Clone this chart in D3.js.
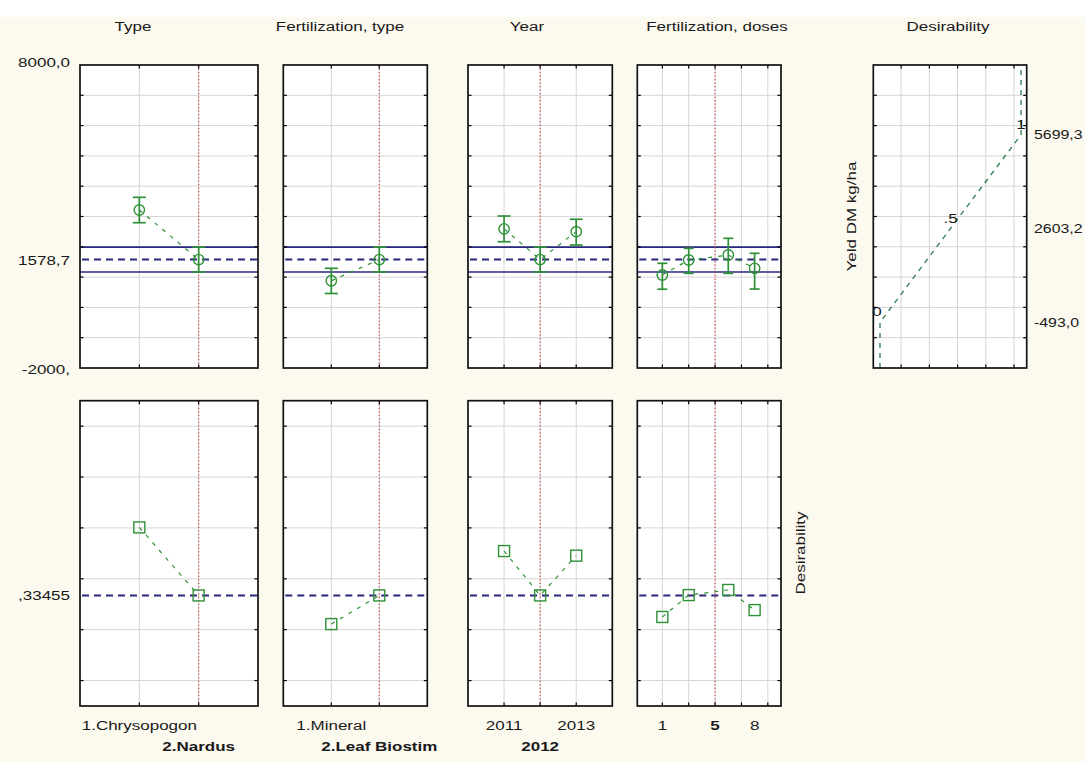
<!DOCTYPE html>
<html>
<head>
<meta charset="utf-8">
<script src="https://cdn.jsdelivr.net/npm/d3@7"></script>
<style>
  html, body { margin: 0; padding: 0; background: #fcf9ef; }
  svg { display: block; }
  text { font-family: "Liberation Sans", Arial, sans-serif; fill: #1a1a1a; }
</style>
</head>
<body>
<svg id="chart" width="1085" height="762"></svg>
<script>
// ---------------- DATA ----------------
const panelTitles = ["Type", "Fertilization, type", "Year", "Fertilization, doses", "Desirability"];

const typeLevels = [1, 2];
const typeLabels = ["1.Chrysopogon", "2.Nardus"];
const typeYield = [3214, 1578.7];
const typeLow = [2795, 1169];
const typeHigh = [3633, 1989];
const typeDesir = [0.602, 0.3346];

const fertLevels = [1, 2];
const fertLabels = ["1.Mineral", "2.Leaf Biostim"];
const fertYield = [880, 1578.7];
const fertLow = [460, 1169];
const fertHigh = [1290, 1989];
const fertDesir = [0.222, 0.3346];

const yearLevels = [1, 2, 3];
const yearLabels = ["2011", "2012", "2013"];
const yearYield = [2592, 1578.7, 2500];
const yearLow = [2168, 1169, 2059];
const yearHigh = [3016, 1989, 2908];
const yearDesir = [0.509, 0.3346, 0.491];

const doseLevels = [1, 3, 6, 8];
const doseYield = [1069, 1564, 1729, 1290];
const doseLow = [600, 1125, 1125, 607];
const doseHigh = [1455, 1950, 2280, 1785];
const doseDesir = [0.250, 0.336, 0.356, 0.277];
const doseTickValues = [1, 5, 8];
const doseTickLabels = ["1", "5", "8"];
const doseGrid = [1, 3, 5, 7, 9];

const currentLevel = [2, 2, 2, 5];

const meanYield = 1578.7;
const bandLow = 1169;
const bandHigh = 1989;
const meanDesir = 0.33455;

const yieldTickValues = [8000, 1578.7, -2000];
const yieldTickLabels = ["8000,0", "1578,7", "-2000,"];
const desirTickValues = [0.33455];
const desirTickLabels = [",33455"];
const yieldDomain = [-2000, 8000];
const desirDomain = [-0.1, 1.1];
const yieldGrid = [-1000, 0, 1000, 2000, 3000, 4000, 5000, 6000, 7000];
const desirGrid = [0, 0.2, 0.4, 0.6, 0.8, 1.0];

const desFnD = [0, 0, 1, 1];
const desFnY = [-2000, -493.0, 5699.3, 8000];
const desFnLabels = ["0", ".5", "1"];
const desFnLabelD = [0, 0.5, 1];
const desFnLabelY = [-493.0, 2603.2, 5699.3];
const desRightTickValues = [5699.3, 2603.2, -493.0];
const desRightTickLabels = ["5699,3", "2603,2", "-493,0"];
const desGrid = [0.15, 0.35, 0.55, 0.75, 0.95];

const yLabelTop = "Yeld DM kg/ha";
const yLabelBottom = "Desirability";

// ---------------- STYLE / LAYOUT ----------------
const GREEN = "#2f9137";
const NAVY = "#28287e";
const RED = "#d03a3a";
const GRID = "#d6d6d6";
const SX = 1.36;
const FS = 12.5;

const svg = d3.select("#chart");
svg.append("rect").attr("width", 1085).attr("height", 762).attr("fill", "#fcf9ef");
svg.append("rect").attr("width", 1085).attr("height", 17).attr("fill", "#ffffff");

function txt(x, y, s, anchor = "middle", opts = {}) {
  const t = svg.append("text")
    .attr("transform", `translate(${x},${y})` + (opts.rotate ? ` rotate(${opts.rotate})` : "") + ` scale(${opts.sx || SX},1)`)
    .attr("text-anchor", anchor)
    .attr("font-size", opts.size || FS)
    .text(s);
  if (opts.bold) t.attr("font-weight", "bold");
  return t;
}

const topY = d3.scaleLinear().domain(yieldDomain).range([368, 65]);
const botY = d3.scaleLinear().domain(desirDomain).range([706, 400.7]);

const panels = [
  { x0: 80, x1: 258, domain: [0, 3], levels: typeLevels, labels: typeLabels, yv: typeYield, lo: typeLow, hi: typeHigh, dv: typeDesir, grid: typeLevels, cur: currentLevel[0], cat: true, cap: 6.5, titleX: 133 },
  { x0: 283.3, x1: 427.3, domain: [0, 3], levels: fertLevels, labels: fertLabels, yv: fertYield, lo: fertLow, hi: fertHigh, dv: fertDesir, grid: fertLevels, cur: currentLevel[1], cat: true, cap: 6.5, titleX: 340 },
  { x0: 468, x1: 612.3, domain: [0, 4], levels: yearLevels, labels: yearLabels, yv: yearYield, lo: yearLow, hi: yearHigh, dv: yearDesir, grid: yearLevels, cur: currentLevel[2], cat: true, cap: 6.5, titleX: 527 },
  { x0: 637.3, x1: 781, domain: [-0.9, 10], levels: doseLevels, labels: null, yv: doseYield, lo: doseLow, hi: doseHigh, dv: doseDesir, grid: doseGrid, cur: currentLevel[3], cat: false, cap: 5, titleX: 717 }
];

function drawFrame(x, y, xgrid, ygrid) {
  const [x0, x1] = x.range();
  const [yb, yt] = y.range();
  const g = svg.append("g");
  g.append("rect").attr("x", x0).attr("y", yt).attr("width", x1 - x0).attr("height", yb - yt).attr("fill", "#fff");
  g.selectAll(".hg").data(ygrid).join("line")
    .attr("x1", x0).attr("x2", x1).attr("y1", d => y(d)).attr("y2", d => y(d))
    .attr("stroke", GRID).attr("stroke-width", 1);
  g.selectAll(".vg").data(xgrid).join("line")
    .attr("x1", d => x(d)).attr("x2", d => x(d)).attr("y1", yt).attr("y2", yb)
    .attr("stroke", GRID).attr("stroke-width", 1);
  return g;
}
function drawBorder(x, y, xgrid, ygrid) {
  const [x0, x1] = x.range();
  const [yb, yt] = y.range();
  const g = svg.append("g");
  const tl = 3.5;
  ygrid.forEach(d => {
    g.append("line").attr("x1", x0).attr("x2", x0 + tl).attr("y1", y(d)).attr("y2", y(d)).attr("stroke", "#000").attr("stroke-width", 1.2);
    g.append("line").attr("x1", x1 - tl).attr("x2", x1).attr("y1", y(d)).attr("y2", y(d)).attr("stroke", "#000").attr("stroke-width", 1.2);
  });
  xgrid.forEach(d => {
    g.append("line").attr("x1", x(d)).attr("x2", x(d)).attr("y1", yt).attr("y2", yt + tl).attr("stroke", "#000").attr("stroke-width", 1.2);
    g.append("line").attr("x1", x(d)).attr("x2", x(d)).attr("y1", yb - tl).attr("y2", yb).attr("stroke", "#000").attr("stroke-width", 1.2);
  });
  g.append("rect").attr("x", x0).attr("y", yt).attr("width", x1 - x0).attr("height", yb - yt)
    .attr("fill", "none").attr("stroke", "#111").attr("stroke-width", 1.7);
}

panels.forEach((p, pi) => {
  const x = d3.scaleLinear().domain(p.domain).range([p.x0, p.x1]);
  const pts = p.levels.map((l, i) => ({ x: l, y: p.yv[i], lo: p.lo[i], hi: p.hi[i], d: p.dv[i] }));

  // top row (yield)
  let g = drawFrame(x, topY, p.grid, yieldGrid);
  [bandLow, bandHigh].forEach(v => {
    g.append("line").attr("x1", p.x0).attr("x2", p.x1).attr("y1", topY(v)).attr("y2", topY(v))
      .attr("stroke", NAVY).attr("stroke-width", 1.6);
  });
  g.append("line").attr("x1", p.x0 + 2).attr("x2", p.x1).attr("y1", topY(meanYield)).attr("y2", topY(meanYield))
    .attr("stroke", NAVY).attr("stroke-width", 1.9).attr("stroke-dasharray", "7,5");
  g.append("line").attr("x1", x(p.cur)).attr("x2", x(p.cur)).attr("y1", topY.range()[1]).attr("y2", topY.range()[0])
    .attr("stroke", RED).attr("stroke-width", 1.1).attr("stroke-dasharray", "1.3,2.2");
  g.append("path").datum(pts)
    .attr("d", d3.line().x(d => x(d.x)).y(d => topY(d.y)))
    .attr("fill", "none").attr("stroke", GREEN).attr("stroke-width", 1.2).attr("stroke-dasharray", "4,6");
  const eb = g.selectAll(".eb").data(pts).join("g");
  eb.append("line").attr("x1", d => x(d.x)).attr("x2", d => x(d.x)).attr("y1", d => topY(d.lo)).attr("y2", d => topY(d.hi))
    .attr("stroke", GREEN).attr("stroke-width", 1.7);
  eb.append("line").attr("x1", d => x(d.x) - p.cap).attr("x2", d => x(d.x) + p.cap).attr("y1", d => topY(d.lo)).attr("y2", d => topY(d.lo))
    .attr("stroke", GREEN).attr("stroke-width", 1.7);
  eb.append("line").attr("x1", d => x(d.x) - p.cap).attr("x2", d => x(d.x) + p.cap).attr("y1", d => topY(d.hi)).attr("y2", d => topY(d.hi))
    .attr("stroke", GREEN).attr("stroke-width", 1.7);
  eb.append("circle").attr("cx", d => x(d.x)).attr("cy", d => topY(d.y)).attr("r", 5.2)
    .attr("fill", "none").attr("stroke", GREEN).attr("stroke-width", 1.4);
  drawBorder(x, topY, p.grid, yieldGrid);

  // bottom row (desirability)
  g = drawFrame(x, botY, p.grid, desirGrid);
  g.append("line").attr("x1", p.x0 + 2).attr("x2", p.x1).attr("y1", botY(meanDesir)).attr("y2", botY(meanDesir))
    .attr("stroke", NAVY).attr("stroke-width", 1.9).attr("stroke-dasharray", "7,5");
  g.append("line").attr("x1", x(p.cur)).attr("x2", x(p.cur)).attr("y1", botY.range()[1]).attr("y2", botY.range()[0])
    .attr("stroke", RED).attr("stroke-width", 1.1).attr("stroke-dasharray", "1.3,2.2");
  g.append("path").datum(pts)
    .attr("d", d3.line().x(d => x(d.x)).y(d => botY(d.d)))
    .attr("fill", "none").attr("stroke", GREEN).attr("stroke-width", 1.2).attr("stroke-dasharray", "4,6");
  g.selectAll(".sq").data(pts).join("rect")
    .attr("x", d => x(d.x) - 5.5).attr("y", d => botY(d.d) - 5.5).attr("width", 11).attr("height", 11)
    .attr("fill", "none").attr("stroke", GREEN).attr("stroke-width", 1.4);
  drawBorder(x, botY, p.grid, desirGrid);

  // labels
  txt(p.titleX, 31, panelTitles[pi]);
  if (p.cat) {
    p.levels.forEach((l, i) => {
      const isCur = l === p.cur;
      txt(x(l), isCur ? 751 : 729.5, p.labels[i], "middle", { bold: isCur });
    });
  } else {
    doseTickValues.forEach((v, i) => {
      txt(x(v), 729.5, doseTickLabels[i], "middle", { bold: v === p.cur });
    });
  }
});

yieldTickValues.forEach((v, i) => {
  const off = i === 0 ? 1.5 : 5.5;
  txt(70, topY(v) + off, yieldTickLabels[i], "end");
});
desirTickValues.forEach((v, i) => {
  txt(70, botY(v) + 4.5, desirTickLabels[i], "end");
});

// desirability function panel
{
  const x = d3.scaleLinear().domain([-0.0475, 1.040]).range([873.3, 1026.7]);
  const g = drawFrame(x, topY, desGrid, yieldGrid);
  const fn = desFnD.map((d, i) => ({ d, y: desFnY[i] }));
  g.append("path").datum(fn)
    .attr("d", d3.line().x(d => x(d.d)).y(d => topY(d.y)))
    .attr("fill", "none").attr("stroke", "#2d7a4a").attr("stroke-width", 1.3).attr("stroke-dasharray", "5,5");
  drawBorder(x, topY, desGrid, yieldGrid);
  desFnLabels.forEach((s, i) => {
    txt(x(desFnLabelD[i]) - (i === 0 ? 3 : 0), topY(desFnLabelY[i]) - 6, s, "middle");
  });
  desRightTickValues.forEach((v, i) => {
    txt(1034, topY(v) + 4.5, desRightTickLabels[i], "start", { sx: 1.27 });
  });
  txt(856, 216.5, yLabelTop, "middle", { rotate: -90 });
  txt(948, 31, panelTitles[4], "middle");
}
txt(804.5, 553, yLabelBottom, "middle", { rotate: -90 });
</script>
</body>
</html>
